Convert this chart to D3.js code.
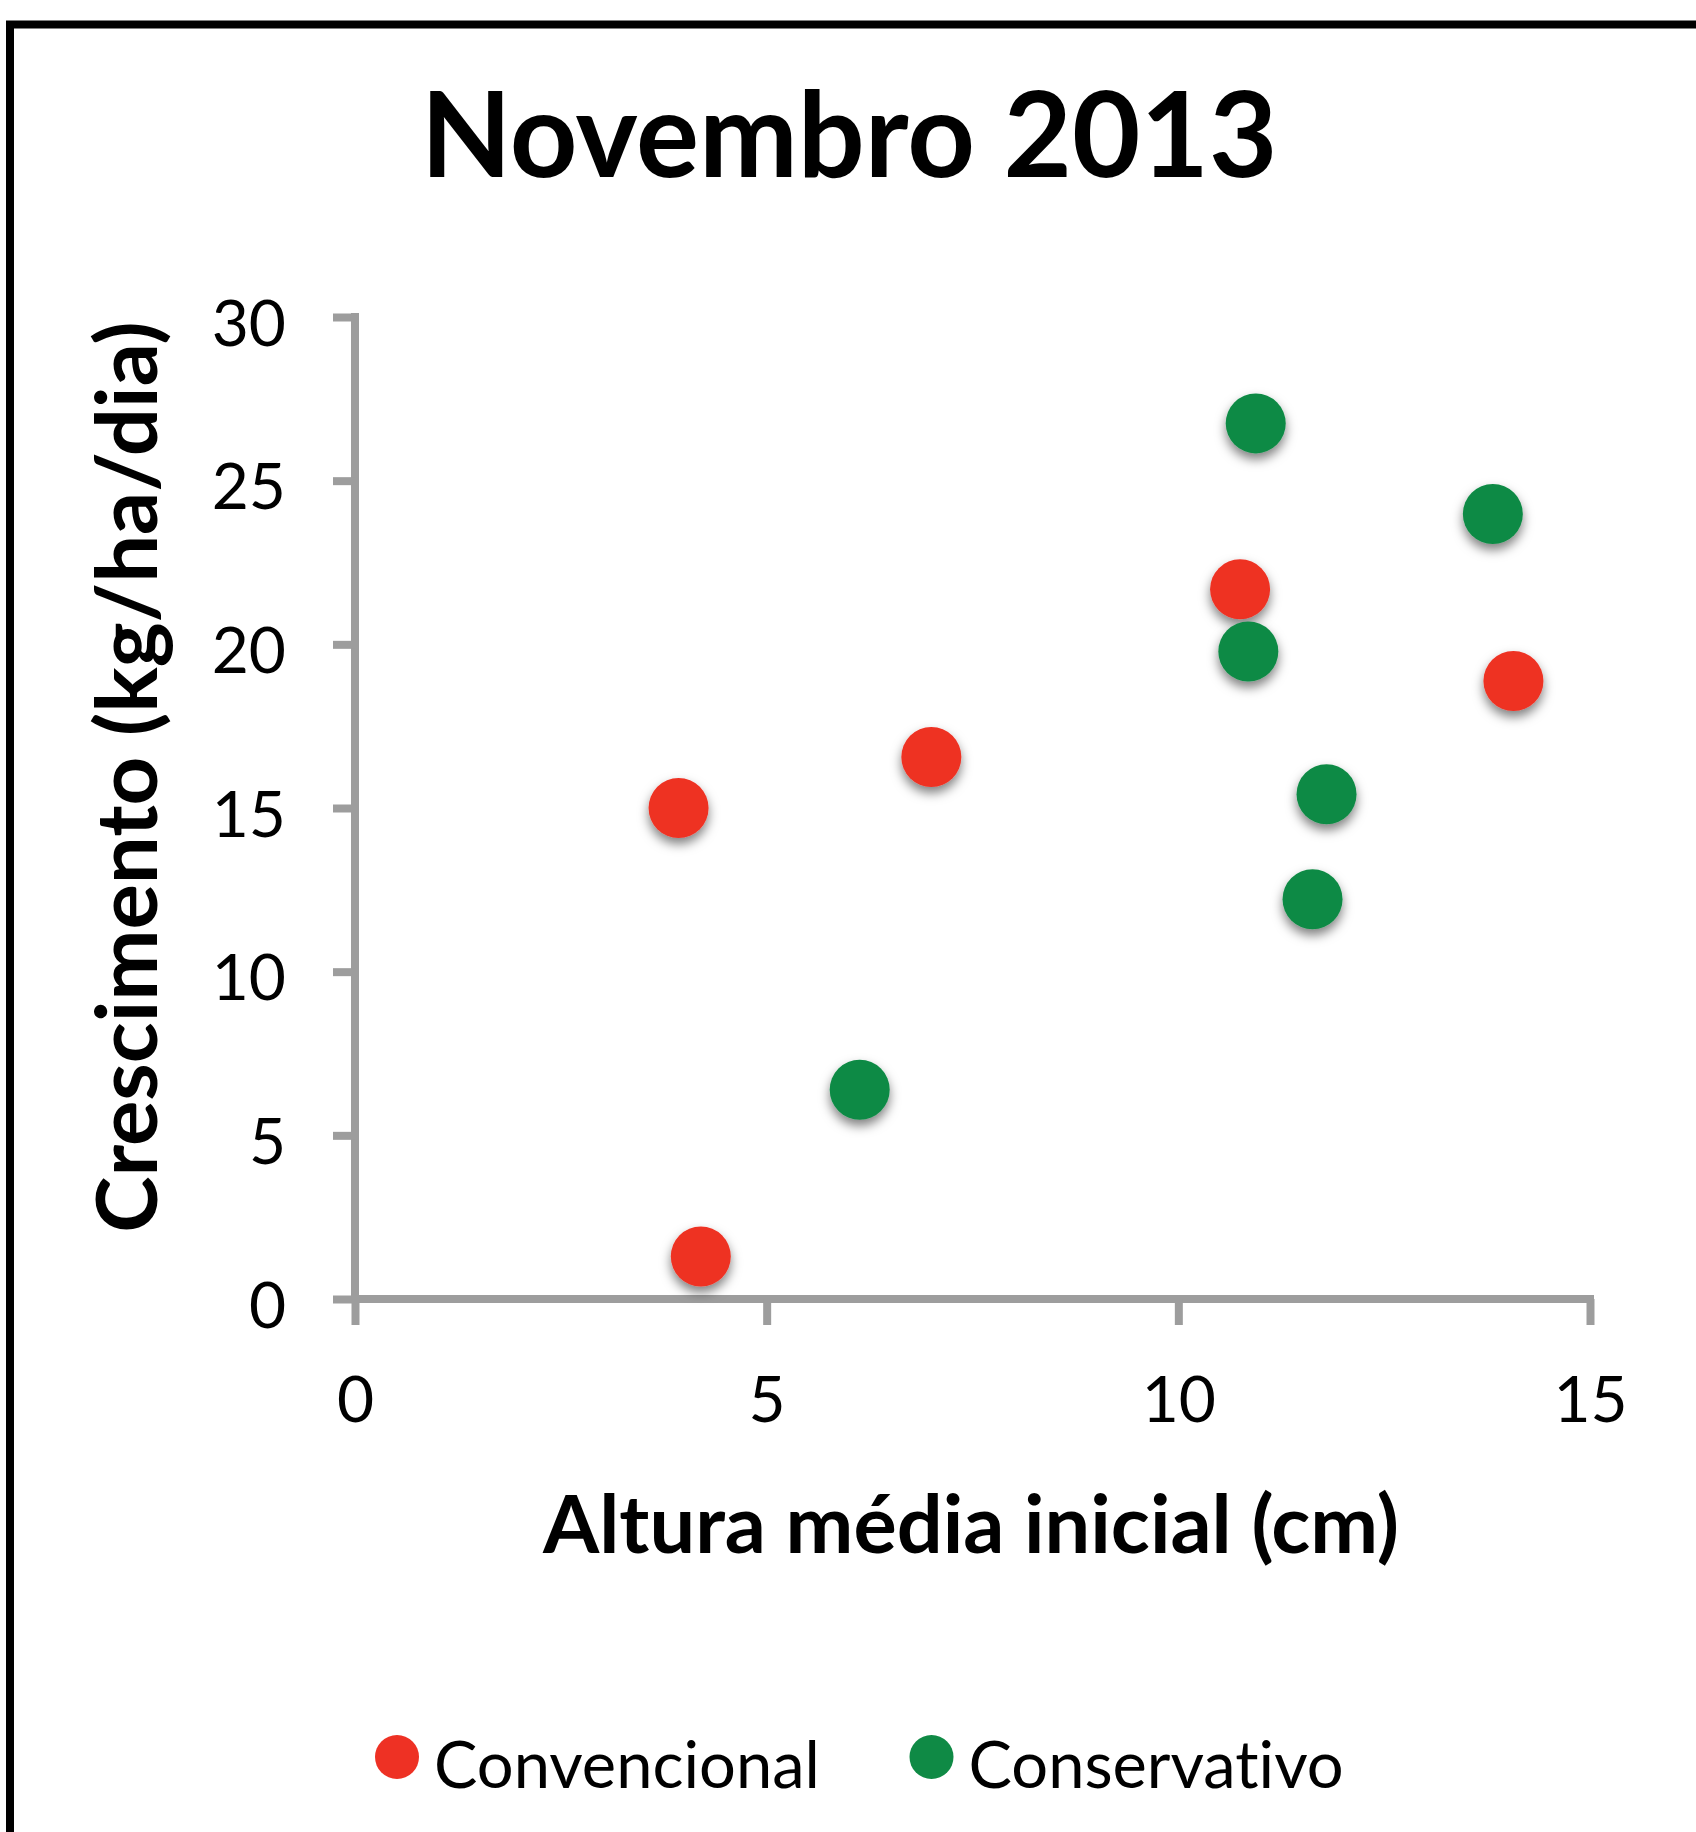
<!DOCTYPE html>
<html>
<head>
<meta charset="utf-8">
<script src="https://cdn.jsdelivr.net/npm/d3@7"></script>
<style>
  html, body { margin: 0; padding: 0; background: #fff; }
  svg { display: block; }
  text { font-variant-ligatures: none; font-feature-settings: "liga" 0, "clig" 0; }
</style>
</head>
<body>
<svg id="chart" width="1696" height="1832"></svg>
<script>
// ---- Data ----
const chartTitle = "Novembro 2013";
const xAxisTitle = "Altura média inicial (cm)";
const yAxisTitle = "Crescimento (kg/ha/dia)";
const seriesNames = ["Convencional", "Conservativo"];
const seriesColors = ["#EE3124", "#0F8A45"];

const convencionalX = [3.93, 4.2, 7.0, 10.75, 14.07];
const convencionalY = [15.0, 1.3, 16.56, 21.68, 18.88];

const conservativoX = [6.13, 10.94, 13.82, 10.85, 11.8, 11.63];
const conservativoY = [6.39, 26.75, 23.98, 19.78, 15.42, 12.21];

const xTicks = [0, 5, 10, 15];
const yTicks = [0, 5, 10, 15, 20, 25, 30];

// ---- Layout ----
const W = 1696, H = 1832;
const plot = { left: 355, right: 1590, top: 317, bottom: 1299 };
const axisColor = "#9d9d9d";
const fontFamily = "Lato, 'Open Sans', sans-serif";

const svg = d3.select("#chart");

// drop shadow filter
const defs = svg.append("defs");
const f = defs.append("filter").attr("id", "shadow")
  .attr("x", "-50%").attr("y", "-50%").attr("width", "200%").attr("height", "200%");
f.append("feDropShadow").attr("dx", 0).attr("dy", 6).attr("stdDeviation", 5.5)
  .attr("flood-color", "#000").attr("flood-opacity", 0.5);

// border (right and bottom fall outside the picture)
svg.append("rect")
  .attr("x", 10).attr("y", 24.5)
  .attr("width", W + 50).attr("height", H + 50)
  .attr("fill", "none").attr("stroke", "#000").attr("stroke-width", 8);

const x = d3.scaleLinear().domain([0, 15]).range([plot.left, plot.right]);
const y = d3.scaleLinear().domain([0, 30]).range([plot.bottom, plot.top]);

// Y axis
const gy = svg.append("g")
  .attr("transform", `translate(${plot.left},0)`)
  .call(d3.axisLeft(y).tickValues(yTicks).tickSize(22).tickSizeOuter(0).tickPadding(47).tickFormat(d3.format("d")));
// X axis
const gx = svg.append("g")
  .attr("transform", `translate(0,${plot.bottom})`)
  .call(d3.axisBottom(x).tickValues(xTicks).tickSize(26).tickSizeOuter(0).tickFormat(d3.format("d")));

[gx, gy].forEach(g => {
  g.select(".domain").attr("stroke", axisColor).attr("stroke-width", 8);
  g.selectAll(".tick line").attr("stroke", axisColor).attr("stroke-width", 8);
  g.selectAll("text").attr("fill", "#000").attr("font-family", fontFamily)
    .attr("font-size", 64).attr("font-weight", 400);
});
gy.selectAll(".tick text").attr("dy", null).attr("y", 28);
gx.selectAll(".tick text").attr("dy", null).attr("y", 123);
// extend axis lines slightly so they meet the outer ticks
gy.select(".domain").attr("d", `M0,${y(30) - 4}V${y(0) + 4}`);
gx.select(".domain").attr("d", `M${x(0) - 4},0H${x(15) + 4}`);

// Points
function drawSeries(xs, ys, color) {
  const pts = xs.map((v, i) => ({ x: v, y: ys[i] }));
  svg.append("g").attr("filter", "url(#shadow)")
    .selectAll("circle").data(pts).join("circle")
    .attr("cx", d => x(d.x)).attr("cy", d => y(d.y))
    .attr("r", 30).attr("fill", color);
}
drawSeries(convencionalX, convencionalY, seriesColors[0]);
drawSeries(conservativoX, conservativoY, seriesColors[1]);

// Titles
svg.append("text").text(chartTitle)
  .attr("x", 849).attr("y", 177).attr("text-anchor", "middle")
  .attr("font-family", fontFamily).attr("font-weight", 700).attr("font-size", 118).attr("fill", "#000");

svg.append("text").text(xAxisTitle)
  .attr("x", 971).attr("y", 1553).attr("text-anchor", "middle")
  .attr("font-family", fontFamily).attr("font-weight", 700).attr("font-size", 81).attr("fill", "#000");

svg.append("text").text(yAxisTitle)
  .attr("transform", "translate(157,777) rotate(-90)").attr("text-anchor", "middle")
  .attr("font-family", fontFamily).attr("font-weight", 700).attr("font-size", 85).attr("fill", "#000");

// Legend
const legendX = [397, 931.5];
const legend = svg.append("g");
seriesNames.forEach((name, i) => {
  legend.append("circle").attr("cx", legendX[i]).attr("cy", 1757).attr("r", 22).attr("fill", seriesColors[i]);
  legend.append("text").text(name)
    .attr("x", legendX[i] + 37).attr("y", 1788)
    .attr("font-family", fontFamily).attr("font-size", 65).attr("fill", "#000");
});
</script>
</body>
</html>
